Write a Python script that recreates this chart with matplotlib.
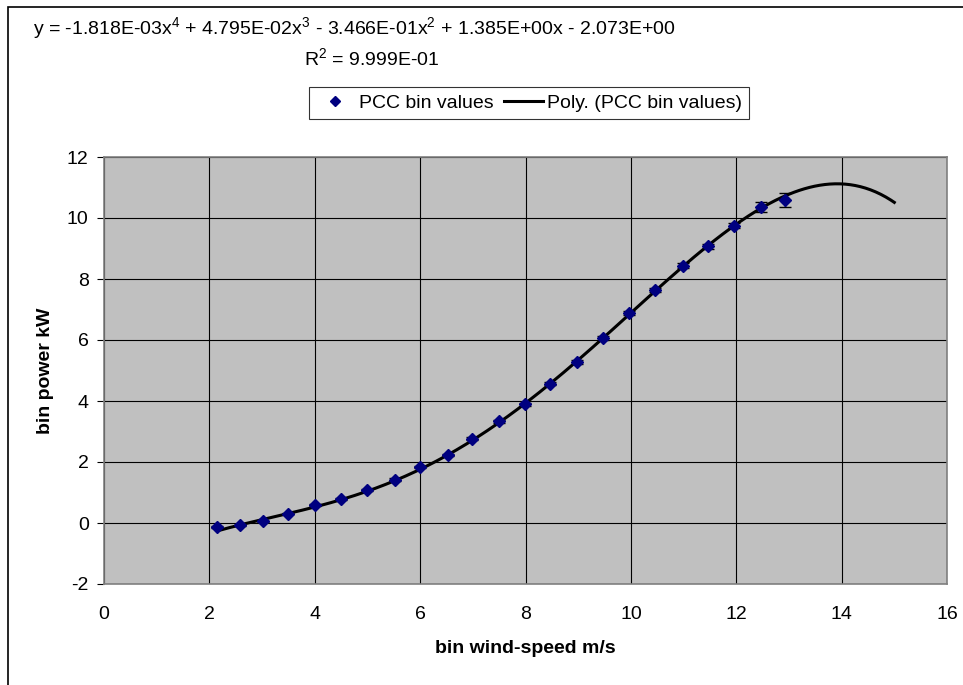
import numpy as np
import matplotlib
matplotlib.use("Agg")
import matplotlib.pyplot as plt
from matplotlib.patches import Rectangle
from matplotlib.lines import Line2D

plt.rcParams['font.family'] = ['Liberation Sans', 'DejaVu Sans']
plt.rcParams['mathtext.fontset'] = 'custom'
plt.rcParams['mathtext.rm'] = 'Liberation Sans'
plt.rcParams['mathtext.it'] = 'Liberation Sans'
plt.rcParams['axes.unicode_minus'] = False

# ---- data ----
wind_speed = [2.15, 2.58, 3.02, 3.5, 4.01, 4.5, 5.0, 5.52, 5.99, 6.52, 6.99, 7.49,
              7.99, 8.46, 8.97, 9.48, 9.96, 10.46, 10.98, 11.47, 11.95, 12.47, 12.93]
bin_power = [-0.14, -0.08, 0.05, 0.31, 0.58, 0.79, 1.09, 1.42, 1.83, 2.23, 2.77, 3.33,
             3.89, 4.56, 5.28, 6.07, 6.89, 7.63, 8.44, 9.07, 9.75, 10.37, 10.60]
power_err = [0.03, 0.03, 0.03, 0.03, 0.03, 0.03, 0.03, 0.04, 0.04, 0.04, 0.04, 0.05,
             0.05, 0.05, 0.06, 0.06, 0.06, 0.07, 0.07, 0.08, 0.09, 0.16, 0.23]
poly_coeffs = [-1.818e-03, 4.795e-02, -3.466e-01, 1.385e+00, -2.073e+00]
trend_end = 15.0
x_ticks = [0, 2, 4, 6, 8, 10, 12, 14, 16]
y_ticks = [-2, 0, 2, 4, 6, 8, 10, 12]

FS = 14
W, H = 963, 685
fig = plt.figure(figsize=(W / 100, H / 100), dpi=100)
ax = fig.add_axes([104 / W, 1 - 584 / H, (947 - 104) / W, (584 - 157) / H])

# outer chart border
fig.patches.append(Rectangle((8 / W, -0.05), 1.2, 1 - 7 / H + 0.05, transform=fig.transFigure,
                             fill=False, edgecolor='black', linewidth=1.2, zorder=0))

ax.set_facecolor('#C0C0C0')
ax.set_xlim(0, 16)
ax.set_ylim(-2, 12)
ax.set_xticks(x_ticks)
ax.set_yticks(y_ticks)
ax.grid(True, color='black', linewidth=0.8)
ax.set_axisbelow(True)
for s in ax.spines.values():
    s.set_color('#808080')
    s.set_linewidth(1.2)

ax.tick_params(axis='x', length=0, pad=16, labelsize=FS)
ax.tick_params(axis='y', length=5, width=0.8, pad=6, labelsize=FS, direction='out')

xs = np.linspace(wind_speed[0], trend_end, 400)
ax.plot(xs, np.polyval(poly_coeffs, xs), color='black', linewidth=2.2, zorder=3)

ax.errorbar(wind_speed, bin_power, yerr=power_err, fmt='none', ecolor='black',
            elinewidth=1, capsize=4.5, capthick=1, zorder=4)
ax.plot(wind_speed, bin_power, linestyle='none', marker='D', markersize=6,
        color='#000080', zorder=5)

ax.set_xlabel('bin wind-speed m/s', fontsize=FS, fontweight='bold', labelpad=12)
ax.set_ylabel('bin power kW', fontsize=FS, fontweight='bold', labelpad=9)

fig.text(33 / W, 1 - 28 / H,
         r'y = -1.818E-03x$^{4}$ + 4.795E-02x$^{3}$ - 3.466E-01x$^{2}$ + 1.385E+00x - 2.073E+00',
         fontsize=FS, ha='left', va='center')
fig.text(372 / W, 1 - 58 / H, r'R$^{2}$ = 9.999E-01', fontsize=FS, ha='center', va='center')

handles = [Line2D([], [], linestyle='none', marker='D', markersize=5, color='#000080'),
           Line2D([], [], color='black', linewidth=2.2)]
leg = fig.legend(handles, ['PCC bin values', 'Poly. (PCC bin values)'], ncol=2,
                 loc='center', bbox_to_anchor=((296 + 762) / 2 / W, 1 - 103 / H),
                 fontsize=FS, frameon=True, fancybox=False, edgecolor='black',
                 handlelength=2.0, columnspacing=0.5, handletextpad=0.25, borderpad=0.35)
leg.get_frame().set_linewidth(0.8)

fig.savefig('out.png', dpi=100)
